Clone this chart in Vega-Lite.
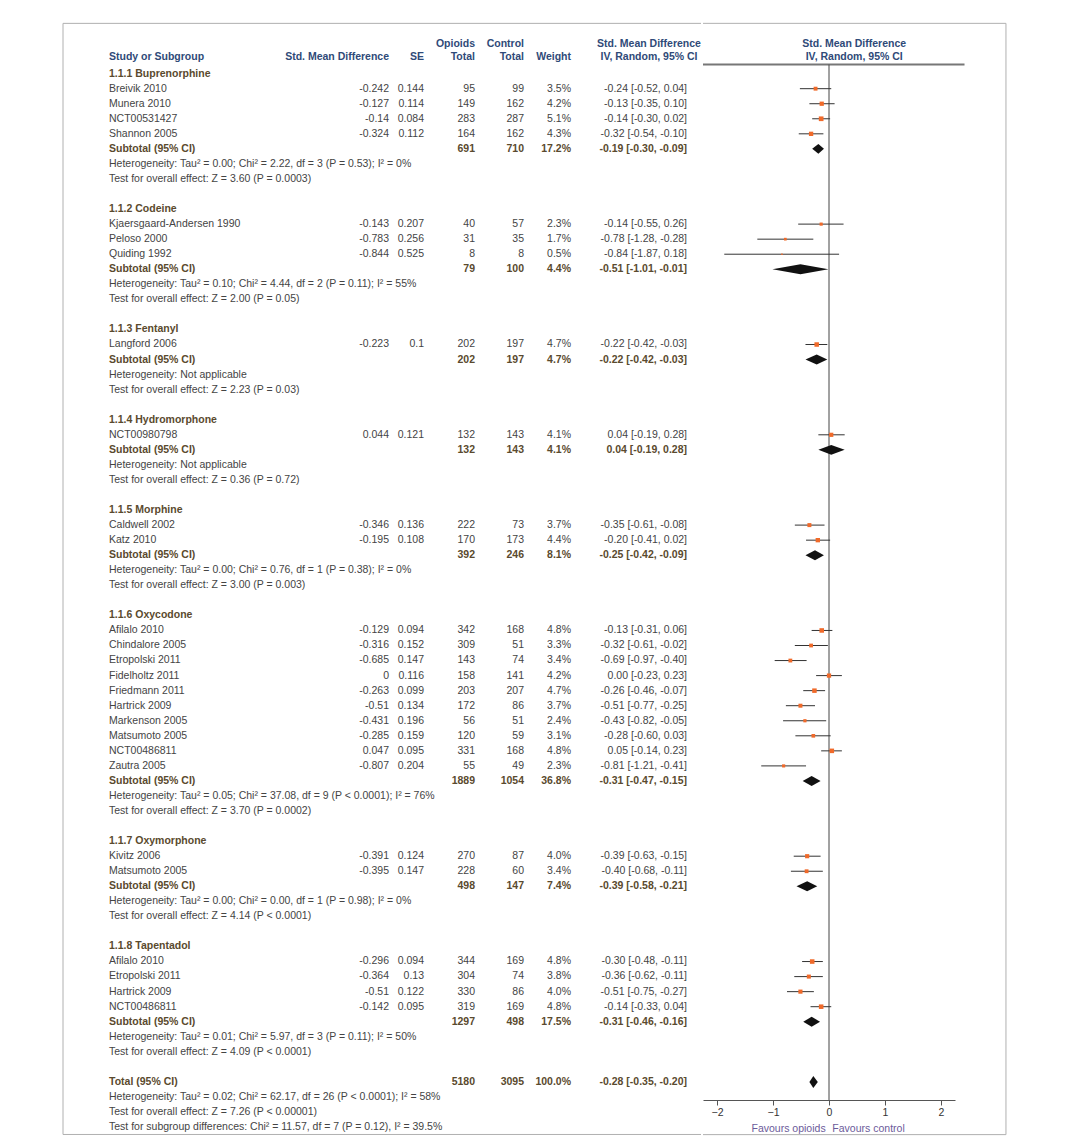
{
"$schema":"https://vega.github.io/schema/vega-lite/v6.json",
"padding":{"left":62,"top":22,"right":0,"bottom":3},
"spacing":0,
"background":"white",
"config":{"view":{"stroke":null},"text":{"font":"Liberation Sans","fontSize":10.5,"baseline":"middle"}},
"datasets":{
"studies":[
{"line":1,"name":"Breivik 2010","smd":"-0.242","se":"0.144","n1":"95","n2":"99","w":"3.5%","wt":3.5,"ci":"-0.24 [-0.52, 0.04]","est":-0.24,"lo":-0.52,"hi":0.04},
{"line":2,"name":"Munera 2010","smd":"-0.127","se":"0.114","n1":"149","n2":"162","w":"4.2%","wt":4.2,"ci":"-0.13 [-0.35, 0.10]","est":-0.13,"lo":-0.35,"hi":0.10},
{"line":3,"name":"NCT00531427","smd":"-0.14","se":"0.084","n1":"283","n2":"287","w":"5.1%","wt":5.1,"ci":"-0.14 [-0.30, 0.02]","est":-0.14,"lo":-0.30,"hi":0.02},
{"line":4,"name":"Shannon 2005","smd":"-0.324","se":"0.112","n1":"164","n2":"162","w":"4.3%","wt":4.3,"ci":"-0.32 [-0.54, -0.10]","est":-0.32,"lo":-0.54,"hi":-0.10},
{"line":10,"name":"Kjaersgaard-Andersen 1990","smd":"-0.143","se":"0.207","n1":"40","n2":"57","w":"2.3%","wt":2.3,"ci":"-0.14 [-0.55, 0.26]","est":-0.14,"lo":-0.55,"hi":0.26},
{"line":11,"name":"Peloso 2000","smd":"-0.783","se":"0.256","n1":"31","n2":"35","w":"1.7%","wt":1.7,"ci":"-0.78 [-1.28, -0.28]","est":-0.78,"lo":-1.28,"hi":-0.28},
{"line":12,"name":"Quiding 1992","smd":"-0.844","se":"0.525","n1":"8","n2":"8","w":"0.5%","wt":0.5,"ci":"-0.84 [-1.87, 0.18]","est":-0.84,"lo":-1.87,"hi":0.18},
{"line":18,"name":"Langford 2006","smd":"-0.223","se":"0.1","n1":"202","n2":"197","w":"4.7%","wt":4.7,"ci":"-0.22 [-0.42, -0.03]","est":-0.22,"lo":-0.42,"hi":-0.03},
{"line":24,"name":"NCT00980798","smd":"0.044","se":"0.121","n1":"132","n2":"143","w":"4.1%","wt":4.1,"ci":"0.04 [-0.19, 0.28]","est":0.04,"lo":-0.19,"hi":0.28},
{"line":30,"name":"Caldwell 2002","smd":"-0.346","se":"0.136","n1":"222","n2":"73","w":"3.7%","wt":3.7,"ci":"-0.35 [-0.61, -0.08]","est":-0.35,"lo":-0.61,"hi":-0.08},
{"line":31,"name":"Katz 2010","smd":"-0.195","se":"0.108","n1":"170","n2":"173","w":"4.4%","wt":4.4,"ci":"-0.20 [-0.41, 0.02]","est":-0.20,"lo":-0.41,"hi":0.02},
{"line":37,"name":"Afilalo 2010","smd":"-0.129","se":"0.094","n1":"342","n2":"168","w":"4.8%","wt":4.8,"ci":"-0.13 [-0.31, 0.06]","est":-0.13,"lo":-0.31,"hi":0.06},
{"line":38,"name":"Chindalore 2005","smd":"-0.316","se":"0.152","n1":"309","n2":"51","w":"3.3%","wt":3.3,"ci":"-0.32 [-0.61, -0.02]","est":-0.32,"lo":-0.61,"hi":-0.02},
{"line":39,"name":"Etropolski 2011","smd":"-0.685","se":"0.147","n1":"143","n2":"74","w":"3.4%","wt":3.4,"ci":"-0.69 [-0.97, -0.40]","est":-0.69,"lo":-0.97,"hi":-0.40},
{"line":40,"name":"Fidelholtz 2011","smd":"0","se":"0.116","n1":"158","n2":"141","w":"4.2%","wt":4.2,"ci":"0.00 [-0.23, 0.23]","est":0.0,"lo":-0.23,"hi":0.23},
{"line":41,"name":"Friedmann 2011","smd":"-0.263","se":"0.099","n1":"203","n2":"207","w":"4.7%","wt":4.7,"ci":"-0.26 [-0.46, -0.07]","est":-0.26,"lo":-0.46,"hi":-0.07},
{"line":42,"name":"Hartrick 2009","smd":"-0.51","se":"0.134","n1":"172","n2":"86","w":"3.7%","wt":3.7,"ci":"-0.51 [-0.77, -0.25]","est":-0.51,"lo":-0.77,"hi":-0.25},
{"line":43,"name":"Markenson 2005","smd":"-0.431","se":"0.196","n1":"56","n2":"51","w":"2.4%","wt":2.4,"ci":"-0.43 [-0.82, -0.05]","est":-0.43,"lo":-0.82,"hi":-0.05},
{"line":44,"name":"Matsumoto 2005","smd":"-0.285","se":"0.159","n1":"120","n2":"59","w":"3.1%","wt":3.1,"ci":"-0.28 [-0.60, 0.03]","est":-0.28,"lo":-0.60,"hi":0.03},
{"line":45,"name":"NCT00486811","smd":"0.047","se":"0.095","n1":"331","n2":"168","w":"4.8%","wt":4.8,"ci":"0.05 [-0.14, 0.23]","est":0.05,"lo":-0.14,"hi":0.23},
{"line":46,"name":"Zautra 2005","smd":"-0.807","se":"0.204","n1":"55","n2":"49","w":"2.3%","wt":2.3,"ci":"-0.81 [-1.21, -0.41]","est":-0.81,"lo":-1.21,"hi":-0.41},
{"line":52,"name":"Kivitz 2006","smd":"-0.391","se":"0.124","n1":"270","n2":"87","w":"4.0%","wt":4.0,"ci":"-0.39 [-0.63, -0.15]","est":-0.39,"lo":-0.63,"hi":-0.15},
{"line":53,"name":"Matsumoto 2005","smd":"-0.395","se":"0.147","n1":"228","n2":"60","w":"3.4%","wt":3.4,"ci":"-0.40 [-0.68, -0.11]","est":-0.40,"lo":-0.68,"hi":-0.11},
{"line":59,"name":"Afilalo 2010","smd":"-0.296","se":"0.094","n1":"344","n2":"169","w":"4.8%","wt":4.8,"ci":"-0.30 [-0.48, -0.11]","est":-0.30,"lo":-0.48,"hi":-0.11},
{"line":60,"name":"Etropolski 2011","smd":"-0.364","se":"0.13","n1":"304","n2":"74","w":"3.8%","wt":3.8,"ci":"-0.36 [-0.62, -0.11]","est":-0.36,"lo":-0.62,"hi":-0.11},
{"line":61,"name":"Hartrick 2009","smd":"-0.51","se":"0.122","n1":"330","n2":"86","w":"4.0%","wt":4.0,"ci":"-0.51 [-0.75, -0.27]","est":-0.51,"lo":-0.75,"hi":-0.27},
{"line":62,"name":"NCT00486811","smd":"-0.142","se":"0.095","n1":"319","n2":"169","w":"4.8%","wt":4.8,"ci":"-0.14 [-0.33, 0.04]","est":-0.14,"lo":-0.33,"hi":0.04}
],
"subtotals":[
{"line":5,"name":"Subtotal (95% CI)","n1":"691","n2":"710","w":"17.2%","ci":"-0.19 [-0.30, -0.09]"},
{"line":13,"name":"Subtotal (95% CI)","n1":"79","n2":"100","w":"4.4%","ci":"-0.51 [-1.01, -0.01]"},
{"line":19,"name":"Subtotal (95% CI)","n1":"202","n2":"197","w":"4.7%","ci":"-0.22 [-0.42, -0.03]"},
{"line":25,"name":"Subtotal (95% CI)","n1":"132","n2":"143","w":"4.1%","ci":"0.04 [-0.19, 0.28]"},
{"line":32,"name":"Subtotal (95% CI)","n1":"392","n2":"246","w":"8.1%","ci":"-0.25 [-0.42, -0.09]"},
{"line":47,"name":"Subtotal (95% CI)","n1":"1889","n2":"1054","w":"36.8%","ci":"-0.31 [-0.47, -0.15]"},
{"line":54,"name":"Subtotal (95% CI)","n1":"498","n2":"147","w":"7.4%","ci":"-0.39 [-0.58, -0.21]"},
{"line":63,"name":"Subtotal (95% CI)","n1":"1297","n2":"498","w":"17.5%","ci":"-0.31 [-0.46, -0.16]"},
{"line":67,"name":"Total (95% CI)","n1":"5180","n2":"3095","w":"100.0%","ci":"-0.28 [-0.35, -0.20]"}
],
"groups":[
{"line":0,"name":"1.1.1 Buprenorphine"},{"line":9,"name":"1.1.2 Codeine"},{"line":17,"name":"1.1.3 Fentanyl"},{"line":23,"name":"1.1.4 Hydromorphone"},{"line":29,"name":"1.1.5 Morphine"},{"line":36,"name":"1.1.6 Oxycodone"},{"line":51,"name":"1.1.7 Oxymorphone"},{"line":58,"name":"1.1.8 Tapentadol"}
],
"notes":[
{"line":6,"t":"Heterogeneity: Tau² = 0.00; Chi² = 2.22, df = 3 (P = 0.53); I² = 0%"},
{"line":7,"t":"Test for overall effect: Z = 3.60 (P = 0.0003)"},
{"line":14,"t":"Heterogeneity: Tau² = 0.10; Chi² = 4.44, df = 2 (P = 0.11); I² = 55%"},
{"line":15,"t":"Test for overall effect: Z = 2.00 (P = 0.05)"},
{"line":20,"t":"Heterogeneity: Not applicable"},
{"line":21,"t":"Test for overall effect: Z = 2.23 (P = 0.03)"},
{"line":26,"t":"Heterogeneity: Not applicable"},
{"line":27,"t":"Test for overall effect: Z = 0.36 (P = 0.72)"},
{"line":33,"t":"Heterogeneity: Tau² = 0.00; Chi² = 0.76, df = 1 (P = 0.38); I² = 0%"},
{"line":34,"t":"Test for overall effect: Z = 3.00 (P = 0.003)"},
{"line":48,"t":"Heterogeneity: Tau² = 0.05; Chi² = 37.08, df = 9 (P < 0.0001); I² = 76%"},
{"line":49,"t":"Test for overall effect: Z = 3.70 (P = 0.0002)"},
{"line":55,"t":"Heterogeneity: Tau² = 0.00; Chi² = 0.00, df = 1 (P = 0.98); I² = 0%"},
{"line":56,"t":"Test for overall effect: Z = 4.14 (P < 0.0001)"},
{"line":64,"t":"Heterogeneity: Tau² = 0.01; Chi² = 5.97, df = 3 (P = 0.11); I² = 50%"},
{"line":65,"t":"Test for overall effect: Z = 4.09 (P < 0.0001)"},
{"line":68,"t":"Heterogeneity: Tau² = 0.02; Chi² = 62.17, df = 26 (P < 0.0001); I² = 58%"},
{"line":69,"t":"Test for overall effect: Z = 7.26 (P < 0.00001)"},
{"line":70,"t":"Test for subgroup differences: Chi² = 11.57, df = 7 (P = 0.12), I² = 39.5%"}
],
"diamonds":[
{"g":1,"x":-0.30,"y":5,"y2":5},{"g":1,"x":-0.19,"y":4.67,"y2":5.33},{"g":1,"x":-0.09,"y":5,"y2":5},
{"g":2,"x":-1.01,"y":13,"y2":13},{"g":2,"x":-0.51,"y":12.67,"y2":13.33},{"g":2,"x":-0.01,"y":13,"y2":13},
{"g":3,"x":-0.42,"y":19,"y2":19},{"g":3,"x":-0.22,"y":18.67,"y2":19.33},{"g":3,"x":-0.03,"y":19,"y2":19},
{"g":4,"x":-0.19,"y":25,"y2":25},{"g":4,"x":0.04,"y":24.67,"y2":25.33},{"g":4,"x":0.28,"y":25,"y2":25},
{"g":5,"x":-0.42,"y":32,"y2":32},{"g":5,"x":-0.25,"y":31.67,"y2":32.33},{"g":5,"x":-0.09,"y":32,"y2":32},
{"g":6,"x":-0.47,"y":47,"y2":47},{"g":6,"x":-0.31,"y":46.67,"y2":47.33},{"g":6,"x":-0.15,"y":47,"y2":47},
{"g":7,"x":-0.58,"y":54,"y2":54},{"g":7,"x":-0.39,"y":53.67,"y2":54.33},{"g":7,"x":-0.21,"y":54,"y2":54},
{"g":8,"x":-0.46,"y":63,"y2":63},{"g":8,"x":-0.31,"y":62.67,"y2":63.33},{"g":8,"x":-0.16,"y":63,"y2":63},
{"g":9,"x":-0.35,"y":67,"y2":67},{"g":9,"x":-0.28,"y":66.6,"y2":67.4},{"g":9,"x":-0.20,"y":67,"y2":67}
],
"headers":[
{"line":-2,"t":"Opioids","x":366,"a":"right"},
{"line":-2,"t":"Control","x":415,"a":"right"},
{"line":-2,"t":"Std. Mean Difference","x":540,"a":"center"},
{"line":-1.1,"t":"Study or Subgroup","x":0,"a":"left"},
{"line":-1.1,"t":"Std. Mean Difference","x":280,"a":"right"},
{"line":-1.1,"t":"SE","x":315,"a":"right"},
{"line":-1.1,"t":"Total","x":366,"a":"right"},
{"line":-1.1,"t":"Total","x":415,"a":"right"},
{"line":-1.1,"t":"Weight","x":462,"a":"right"},
{"line":-1.1,"t":"IV, Random, 95% CI","x":540,"a":"center"}
],
"frameH":[{"y":-3.34},{"y":70.5}],
"frameV":[{"y":-3.34,"y2":70.5}]
},
"hconcat":[
{
"width":592,"height":1106,
"encoding":{
"x":{"type":"quantitative","scale":{"domain":[0,592],"nice":false,"zero":false},"axis":null},
"y":{"field":"line","type":"quantitative","scale":{"domain":[-2.5,71],"reverse":true,"nice":false,"zero":false},"axis":null}
},
"layer":[
{"data":{"name":"frameH"},"mark":{"type":"rule","stroke":"#b0b0b0","strokeWidth":1},
 "encoding":{"x":{"datum":-46,"type":"quantitative"},"x2":{"datum":592},"y":{"field":"y","type":"quantitative"}}},
{"data":{"name":"frameV"},"mark":{"type":"rule","stroke":"#b0b0b0","strokeWidth":1},
 "encoding":{"x":{"datum":-46,"type":"quantitative"},"y":{"field":"y","type":"quantitative"},"y2":{"field":"y2"}}},
{"data":{"values":[{"a":1}]},"mark":{"type":"rule","stroke":"#777777","strokeWidth":2},
 "encoding":{"x":{"datum":-5,"type":"quantitative"},"x2":{"datum":592},"y":{"datum":-0.6,"type":"quantitative"}}},
{"data":{"name":"headers"},"transform":[{"filter":"datum.a=='right'"}],"mark":{"type":"text","fontWeight":"bold","color":"#2f4a78","align":"right"},
 "encoding":{"x":{"field":"x","type":"quantitative"},"text":{"field":"t"}}},
{"data":{"name":"headers"},"transform":[{"filter":"datum.a=='left'"}],"mark":{"type":"text","fontWeight":"bold","color":"#2f4a78","align":"left"},
 "encoding":{"x":{"field":"x","type":"quantitative"},"text":{"field":"t"}}},
{"data":{"name":"headers"},"transform":[{"filter":"datum.a=='center'"}],"mark":{"type":"text","fontWeight":"bold","color":"#2f4a78","align":"center"},
 "encoding":{"x":{"field":"x","type":"quantitative"},"text":{"field":"t"}}},
{"data":{"name":"groups"},"mark":{"type":"text","fontWeight":"bold","color":"#5a4a2e","align":"left"},
 "encoding":{"x":{"datum":0,"type":"quantitative"},"text":{"field":"name"}}},
{"data":{"name":"notes"},"mark":{"type":"text","color":"#444444","align":"left"},
 "encoding":{"x":{"datum":0,"type":"quantitative"},"text":{"field":"t"}}},
{"data":{"name":"studies"},"mark":{"type":"text","color":"#444444","align":"left"},"encoding":{"x":{"datum":0,"type":"quantitative"},"text":{"field":"name"}}},
{"data":{"name":"studies"},"mark":{"type":"text","color":"#444444","align":"right"},"encoding":{"x":{"datum":280,"type":"quantitative"},"text":{"field":"smd"}}},
{"data":{"name":"studies"},"mark":{"type":"text","color":"#444444","align":"right"},"encoding":{"x":{"datum":315,"type":"quantitative"},"text":{"field":"se"}}},
{"data":{"name":"studies"},"mark":{"type":"text","color":"#444444","align":"right"},"encoding":{"x":{"datum":366,"type":"quantitative"},"text":{"field":"n1"}}},
{"data":{"name":"studies"},"mark":{"type":"text","color":"#444444","align":"right"},"encoding":{"x":{"datum":415,"type":"quantitative"},"text":{"field":"n2"}}},
{"data":{"name":"studies"},"mark":{"type":"text","color":"#444444","align":"right"},"encoding":{"x":{"datum":462,"type":"quantitative"},"text":{"field":"w"}}},
{"data":{"name":"studies"},"mark":{"type":"text","color":"#444444","align":"right"},"encoding":{"x":{"datum":578,"type":"quantitative"},"text":{"field":"ci"}}},
{"data":{"name":"subtotals"},"mark":{"type":"text","color":"#5a4a2e","fontWeight":"bold","align":"left"},"encoding":{"x":{"datum":0,"type":"quantitative"},"text":{"field":"name"}}},
{"data":{"name":"subtotals"},"mark":{"type":"text","color":"#5a4a2e","fontWeight":"bold","align":"right"},"encoding":{"x":{"datum":366,"type":"quantitative"},"text":{"field":"n1"}}},
{"data":{"name":"subtotals"},"mark":{"type":"text","color":"#5a4a2e","fontWeight":"bold","align":"right"},"encoding":{"x":{"datum":415,"type":"quantitative"},"text":{"field":"n2"}}},
{"data":{"name":"subtotals"},"mark":{"type":"text","color":"#5a4a2e","fontWeight":"bold","align":"right"},"encoding":{"x":{"datum":462,"type":"quantitative"},"text":{"field":"w"}}},
{"data":{"name":"subtotals"},"mark":{"type":"text","color":"#5a4a2e","fontWeight":"bold","align":"right"},"encoding":{"x":{"datum":578,"type":"quantitative"},"text":{"field":"ci"}}}
]
},
{
"width":252,"height":1064,
"encoding":{
"x":{"type":"quantitative","scale":{"domain":[-2.25,2.25],"nice":false,"zero":false},
   "axis":{"values":[-2,-1,0,1,2],"format":"d","title":null,"domainColor":"#555","tickColor":"#555","tickSize":5,"labelColor":"#333","labelFont":"Liberation Sans","labelFontSize":10.5,"grid":false}},
"y":{"type":"quantitative","scale":{"domain":[-2.5,68.2],"reverse":true,"nice":false,"zero":false},"axis":null}
},
"layer":[
{"data":{"name":"frameH"},"mark":{"type":"rule","stroke":"#b0b0b0","strokeWidth":1},
 "encoding":{"x":{"datum":-2.25,"type":"quantitative"},"x2":{"datum":3.16},"y":{"field":"y","type":"quantitative"}}},
{"data":{"values":[{"a":1}]},"mark":{"type":"rule","stroke":"#b0b0b0","strokeWidth":1},
 "encoding":{"x":{"datum":3.16,"type":"quantitative"},"y":{"datum":-3.34,"type":"quantitative"},"y2":{"datum":70.5}}},
{"data":{"values":[{"a":1}]},"mark":{"type":"rule","stroke":"#777777","strokeWidth":2},
 "encoding":{"x":{"datum":-2.25,"type":"quantitative"},"x2":{"datum":2.42},"y":{"datum":-0.6,"type":"quantitative"}}},
{"data":{"values":[{"a":1}]},"mark":{"type":"rule","stroke":"#444444","strokeWidth":1},
 "encoding":{"x":{"datum":0,"type":"quantitative"},"y":{"datum":-0.6,"type":"quantitative"},"y2":{"datum":68.2}}},
{"data":{"values":[{"t":"Std. Mean Difference","line":-2},{"t":"IV, Random, 95% CI","line":-1.1}]},"mark":{"type":"text","fontWeight":"bold","color":"#2f4a78","align":"center"},
 "encoding":{"x":{"datum":0.45,"type":"quantitative"},"y":{"field":"line","type":"quantitative"},"text":{"field":"t"}}},
{"data":{"values":[{"t":"Favours opioids","x":-0.06}]},"mark":{"type":"text","color":"#6b5b9a","align":"right"},
 "encoding":{"x":{"field":"x","type":"quantitative"},"y":{"datum":70.1,"type":"quantitative"},"text":{"field":"t"}}},
{"data":{"values":[{"t":"Favours control","x":0.06}]},"mark":{"type":"text","color":"#6b5b9a","align":"left"},
 "encoding":{"x":{"field":"x","type":"quantitative"},"y":{"datum":70.1,"type":"quantitative"},"text":{"field":"t"}}},
{"data":{"name":"studies"},"mark":{"type":"rule","stroke":"#333333","strokeWidth":1},
 "encoding":{"x":{"field":"lo","type":"quantitative"},"x2":{"field":"hi"},"y":{"field":"line","type":"quantitative"}}},
{"data":{"name":"studies"},"mark":{"type":"point","shape":"square","filled":true,"color":"#f06a2a","opacity":1},
 "encoding":{"x":{"field":"est","type":"quantitative"},"y":{"field":"line","type":"quantitative"},"size":{"field":"wt","type":"quantitative","scale":{"domain":[0,5.1],"range":[0,22]},"legend":null}}},
{"data":{"name":"diamonds"},"mark":{"type":"area","color":"#111111","opacity":1},
 "encoding":{"x":{"field":"x","type":"quantitative"},"y":{"field":"y","type":"quantitative"},"y2":{"field":"y2"},"detail":{"field":"g"}}}
]
}
]
}
